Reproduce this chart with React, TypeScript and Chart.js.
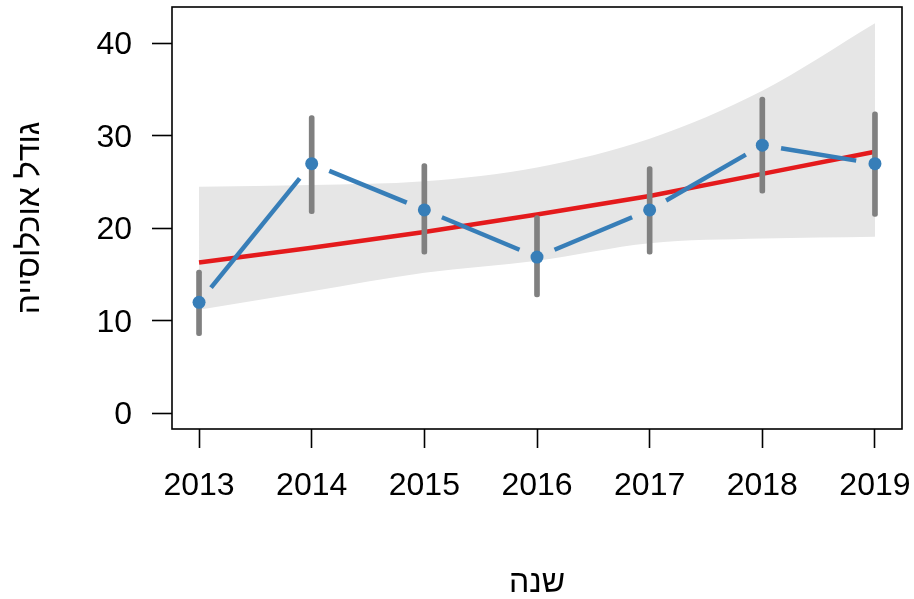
import React, { useEffect, useRef } from 'react';
import { Chart, registerables } from 'chart.js';

Chart.register(...registerables);

// ---- data ----
const years = [2013, 2014, 2015, 2016, 2017, 2018, 2019];
const means = [12.0, 27.0, 22.0, 16.9, 22.0, 29.0, 27.0];
const errLow = [8.4, 21.6, 17.2, 12.6, 17.2, 23.8, 21.3];
const errHigh = [15.5, 32.2, 27.0, 21.4, 26.7, 34.2, 32.6];
const fitLine = [16.3, 17.9, 19.6, 21.5, 23.5, 25.9, 28.3];
const bandUpper = [24.5, 24.7, 25.1, 26.6, 29.7, 34.9, 42.2];
const bandLower = [11.2, 13.2, 15.2, 16.5, 18.4, 18.9, 19.1];
const yTicks = [0, 10, 20, 30, 40];
const xTitle = 'שנה';
const yTitle = 'גודל אוכלוסייה';

const BLUE = '#377EB8';
const RED = '#E41A1C';
const GREY = '#808080';
const BAND = '#E6E6E6';
const FONT = '"Liberation Sans", Arial, "DejaVu Sans", sans-serif';
const POINTS_INDEX = 4;

const gapLines = {
  id: 'gapLines',
  beforeDatasetDraw(chart: any, args: any) {
    if (args.index !== POINTS_INDEX) return;
    const pts = chart.getDatasetMeta(POINTS_INDEX).data;
    const ctx = chart.ctx;
    const gap = 19;
    ctx.save();
    ctx.strokeStyle = BLUE;
    ctx.lineWidth = 4.5;
    ctx.lineCap = 'butt';
    for (let i = 0; i < pts.length - 1; i++) {
      const a = pts[i];
      const b = pts[i + 1];
      const dx = b.x - a.x;
      const dy = b.y - a.y;
      const len = Math.hypot(dx, dy);
      if (len <= 2 * gap) continue;
      const ux = dx / len;
      const uy = dy / len;
      ctx.beginPath();
      ctx.moveTo(a.x + ux * gap, a.y + uy * gap);
      ctx.lineTo(b.x - ux * gap, b.y - uy * gap);
      ctx.stroke();
    }
    ctx.restore();
  },
};

const boxPlugin = {
  id: 'boxPlugin',
  afterDraw(chart: any) {
    const { left, top, right, bottom } = chart.chartArea;
    const ctx = chart.ctx;
    ctx.save();
    ctx.strokeStyle = '#000';
    ctx.lineWidth = 1.6;
    ctx.strokeRect(left, top, right - left, bottom - top);
    ctx.restore();
  },
};

export default function App() {
  const ref = useRef<HTMLCanvasElement | null>(null);

  useEffect(() => {
    document.body.style.margin = '0';
    const canvas = ref.current;
    if (!canvas) return;

    const chart = new Chart(canvas, {
      type: 'line',
      data: {
        datasets: [
          {
            label: 'band upper',
            data: years.map((x, i) => ({ x, y: bandUpper[i] })),
            borderWidth: 0,
            borderColor: 'rgba(0,0,0,0)',
            backgroundColor: BAND,
            pointRadius: 0,
            fill: '+1',
            cubicInterpolationMode: 'monotone',
            order: 6,
          },
          {
            label: 'band lower',
            data: years.map((x, i) => ({ x, y: bandLower[i] })),
            borderWidth: 0,
            borderColor: 'rgba(0,0,0,0)',
            pointRadius: 0,
            fill: false,
            cubicInterpolationMode: 'monotone',
            order: 5,
          },
          {
            label: 'fit',
            data: years.map((x, i) => ({ x, y: fitLine[i] })),
            borderColor: RED,
            borderWidth: 4.5,
            pointRadius: 0,
            fill: false,
            order: 4,
          },
          {
            type: 'bar',
            label: 'error',
            data: years.map((x, i) => ({ x, y: [errLow[i], errHigh[i]] })),
            backgroundColor: GREY,
            borderWidth: 0,
            borderSkipped: false,
            borderRadius: 2.5,
            barThickness: 5,
            order: 3,
          } as any,
          {
            label: 'mean',
            data: years.map((x, i) => ({ x, y: means[i] })),
            showLine: false,
            pointRadius: 6.5,
            pointBackgroundColor: BLUE,
            pointBorderWidth: 0,
            borderColor: BLUE,
            order: 1,
          },
        ],
      },
      options: {
        animation: false,
        responsive: true,
        maintainAspectRatio: false,
        events: [],
        layout: { padding: { top: 7, right: 12, left: 0, bottom: 0 } },
        plugins: {
          legend: { display: false },
          tooltip: { enabled: false },
        },
        scales: {
          x: {
            type: 'linear',
            min: 2012.76,
            max: 2019.24,
            offset: false,
            afterBuildTicks: (s: any) => {
              s.ticks = years.map((v) => ({ value: v }));
            },
            afterFit: (s: any) => {
              s.height = 170;
              s.paddingLeft = 0;
              s.paddingRight = 0;
            },
            border: { display: false },
            grid: {
              display: true,
              offset: false,
              drawOnChartArea: false,
              drawTicks: true,
              tickLength: 19,
              tickColor: '#000',
              tickWidth: 1.6,
            },
            ticks: {
              autoSkip: false,
              maxRotation: 0,
              padding: 19,
              color: '#000',
              font: { family: FONT, size: 32 },
              callback: (v: any) => String(v),
            },
            title: {
              display: true,
              text: xTitle,
              color: '#000',
              font: { family: FONT, size: 32, lineHeight: 1 },
              padding: { top: 0, bottom: 0 },
            },
          },
          y: {
            type: 'linear',
            min: -1.7,
            max: 43.95,
            afterBuildTicks: (s: any) => {
              s.ticks = yTicks.map((v) => ({ value: v }));
            },
            afterFit: (s: any) => {
              s.width = 172;
              s.paddingTop = 0;
              s.paddingBottom = 0;
            },
            border: { display: false },
            grid: {
              display: true,
              offset: false,
              drawOnChartArea: false,
              drawTicks: true,
              tickLength: 20,
              tickColor: '#000',
              tickWidth: 1.6,
            },
            ticks: {
              padding: 20,
              labelOffset: 2,
              color: '#000',
              font: { family: FONT, size: 32 },
              callback: (v: any) => String(v),
            },
            title: {
              display: true,
              text: yTitle,
              color: '#000',
              font: { family: FONT, size: 32, lineHeight: 1 },
              padding: { top: 14, bottom: 0 },
            },
          },
        },
      },
      plugins: [gapLines, boxPlugin],
    } as any);

    return () => chart.destroy();
  }, []);

  return (
    <div style={{ position: 'absolute', left: 0, top: 0, width: 914, height: 599 }}>
      <canvas ref={ref} />
    </div>
  );
}
